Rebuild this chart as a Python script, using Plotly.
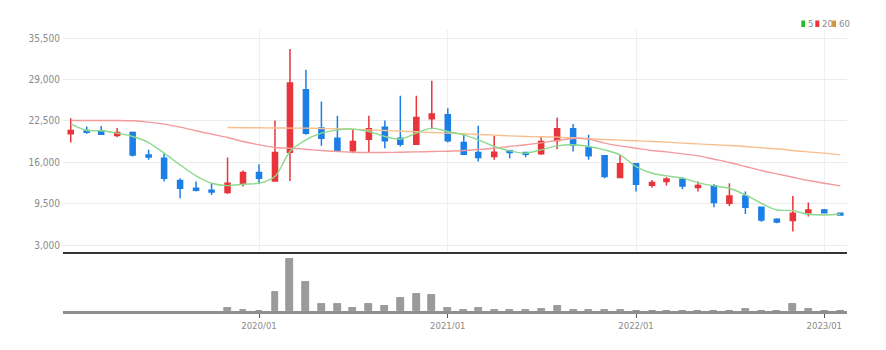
import plotly.graph_objects as go
import pandas as pd

# ---- data ----
months = pd.date_range("2019-01-01", periods=50, freq="MS")

open_ = [20450, 20980, 20950, 20200, 20650, 17150, 16630, 13120, 11910, 11600, 11230, 12700,
         14380, 13060, 17570, 27375, 21350, 19770, 17780, 19620, 21500, 19770, 18830, 22810,
         23450, 19090, 17520, 16890, 17780, 17520, 17310, 19410, 21240, 18310, 17000, 13590,
         15740, 12380, 12960, 13380, 12020, 12280, 9550, 10710, 8920, 7040, 6830, 8080,
         8500, 7980]
high = [22900, 21600, 21700, 21350, 20820, 17940, 17420, 13490, 12960, 12590, 16730, 14690,
        15690, 22550, 33770, 30520, 25540, 23290, 21190, 23290, 22550, 26430, 26430, 28790,
        24490, 20460, 21720, 20140, 17940, 17570, 19930, 23020, 21980, 20300, 17150, 17150,
        15840, 13220, 13640, 13640, 12960, 12540, 12700, 11390, 9030, 7190, 10710, 9660,
        8660, 8080]
low = [19100, 20450, 20300, 19930, 16890, 16370, 12960, 10340, 11390, 10860, 11020, 12170,
       12700, 13000, 13060, 20300, 18570, 17680, 17420, 17570, 18200, 18460, 18700, 21190,
       19090, 17160, 16100, 16370, 16630, 16790, 17160, 18040, 17680, 16370, 13490, 13490,
       11390, 11990, 12330, 11750, 11390, 8920, 9130, 7850, 6670, 6410, 5100, 7460,
       7980, 7610]
close = [20980, 20700, 20400, 20650, 17150, 16800, 13490, 11910, 11600, 11330, 12700, 14380,
         13490, 17520, 28420, 20560, 19770, 17780, 19250, 21250, 19350, 18830, 23020, 23550,
         19350, 17260, 16730, 17570, 17520, 17260, 19250, 21240, 18720, 17000, 13750, 15740,
         12540, 12800, 13380, 12280, 12330, 9660, 10710, 8920, 6930, 6620, 7980, 8500,
         8080, 7720]

ma5 = [22030, 20980, 20930, 20560, 20040, 19090, 17420, 15580, 13850, 12700, 12330, 12540,
       12700, 13750, 17680, 19510, 20560, 21080, 21190, 20820, 20040, 19620, 20560, 21350,
       20820, 20300, 19510, 18470, 17780, 17420, 17940, 18570, 18730, 18470, 17940, 17150,
       15320, 14270, 13850, 13490, 12800, 12280, 11910, 10870, 9550, 8500, 8400, 7820,
       7720, 7820]
ma20 = [22550, 22550, 22550, 22550, 22500, 22290, 21980, 21500, 20930, 20400, 19880, 19250,
        18730, 18310, 18200, 18040, 17830, 17680, 17570, 17520, 17520, 17570, 17620, 17680,
        17730, 17830, 17990, 18200, 18470, 18730, 19040, 19410, 19720, 19620, 19000, 18570,
        18200, 17830, 17620, 17310, 17000, 16470, 15950, 15320, 14690, 14170, 13640, 13120,
        12700, 12280]
ma60 = [None] * 10 + [
        21450, 21420,
        21400, 21380, 21350, 21350, 21300, 21240, 21190, 21080, 20980, 20870, 20770, 20660,
        20560, 20460, 20350, 20250, 20140, 20040, 19990, 19930, 19830, 19670, 19570, 19460,
        19360, 19250, 19150, 18990, 18880, 18730, 18620, 18470, 18260, 18100, 17830, 17620,
        17420, 17150]

volume = [None] * 10 + [
          33000, 9000,
          7000, 193000, 520000, 293000, 77000, 77000, 37000, 70000, 50000, 137000, 170000, 160000,
          37000, 9000, 33000, 17000, 9000, 9000, 23000, 50000, 9000, 9000, 9000, 9000,
          5000, 3000, 3000, 3000, 7000, 3000, 7000, 20000, 3000, 3000, 77000, 23000,
          3000, 3000]

price_ticks = [3000, 9500, 16000, 22500, 29000, 35500]
price_tick_text = ["3,000", "9,500", "16,000", "22,500", "29,000", "35,500"]
year_ticks = ["2020-01-01", "2021-01-01", "2022-01-01", "2023-01-01"]
year_tick_text = ["2020/01", "2021/01", "2022/01", "2023/01"]
legend_labels = ["5", "20", "60"]
legend_colors = ["#1fbf2a", "#f0323c", "#f58a1f"]

# ---- layout geometry ----
W, H = 886, 350
L, R, T, B = 63, 39, 30, 39
pw, ph = W - L - R, H - T - B

def px_x(px):
    return (px - L) / pw

def px_y(py):
    return (H - B - py) / ph

UP, DOWN = "#e8353b", "#1b7fe6"
FONT = "Liberation Sans Narrow, DejaVu Sans Condensed, Roboto, sans-serif"

fig = go.Figure()

fig.add_trace(go.Candlestick(
    x=months, open=open_, high=high, low=low, close=close,
    increasing=dict(line=dict(color=UP, width=1.5), fillcolor=UP),
    decreasing=dict(line=dict(color=DOWN, width=1.5), fillcolor=DOWN),
    whiskerwidth=0, xaxis="x", yaxis="y", showlegend=False, name="price",
))
for vals, col in [(ma60, "#f7bf8c"), (ma20, "#f39a9c"), (ma5, "#8cd98c")]:
    fig.add_trace(go.Scatter(x=months, y=vals, mode="lines",
                             line=dict(color=col, width=1.4, shape="spline", smoothing=0.8),
                             xaxis="x", yaxis="y", showlegend=False, hoverinfo="skip"))

bar_w = 13.5 * 86400000
fig.add_trace(go.Bar(x=months, y=volume, width=bar_w,
                     marker=dict(color="#9b9b9b", line=dict(color="#7d7d7d", width=0.6)),
                     xaxis="x2", yaxis="y2", showlegend=False))

xrange = ["2018-12-17", "2023-02-14"]
vmax = max(v for v in volume if v is not None)

fig.update_layout(
    width=W, height=H,
    margin=dict(l=L, r=R, t=T, b=B),
    paper_bgcolor="white", plot_bgcolor="white",
    font=dict(family=FONT, color="#888888", size=10),
    bargap=0, boxgap=0.5,
    xaxis=dict(domain=[0, 1], range=xrange, anchor="y", type="date",
               rangeslider=dict(visible=False),
               showticklabels=False, ticks="",
               tickvals=year_ticks, showgrid=True, gridcolor="#efefef", gridwidth=1,
               showline=True, linecolor="#333333", linewidth=2, zeroline=False),
    yaxis=dict(domain=[px_y(252), 1], range=[1901, 36756], anchor="x",
               tickvals=price_ticks, ticktext=price_tick_text,
               showgrid=True, gridcolor="#ebebeb", gridwidth=1, zeroline=False,
               showline=False, ticks="", ticklabelstandoff=2,
               tickfont=dict(size=10, color="#8a8a8a", family=FONT)),
    xaxis2=dict(domain=[0, 1], range=xrange, anchor="y2", type="date", matches="x",
                tickvals=year_ticks, ticktext=year_tick_text,
                showgrid=False, ticks="outside", ticklen=4, tickcolor="#555555", tickwidth=1,
                showline=True, linecolor="#8f8f8f", linewidth=2.5, zeroline=False,
                tickfont=dict(size=9.5, color="#8a8a8a", family=FONT)),
    yaxis2=dict(domain=[0, px_y(254.8)], range=[0, vmax * 56.2 / 52], anchor="x2",
                showticklabels=False, showgrid=False, zeroline=False, ticks=""),
)

# custom legend (top right)
sq = [(801.3, 805.0), (815.3, 819.3), (832.3, 836.0)]
tx = [805.8, 820.3, 836.8]
for (x0, x1), t, lab, col in zip(sq, tx, legend_labels, legend_colors):
    fig.add_shape(type="rect", xref="paper", yref="paper",
                  x0=px_x(x0), x1=px_x(x1), y0=px_y(27), y1=px_y(20.5),
                  fillcolor=col, line=dict(width=0))
    fig.add_annotation(xref="paper", yref="paper", x=px_x(t), y=px_y(23.8),
                       text=lab, showarrow=False, xanchor="left", yanchor="middle",
                       font=dict(size=9.5, color="#8a8a8a", family=FONT))

fig.write_html("out.html")
